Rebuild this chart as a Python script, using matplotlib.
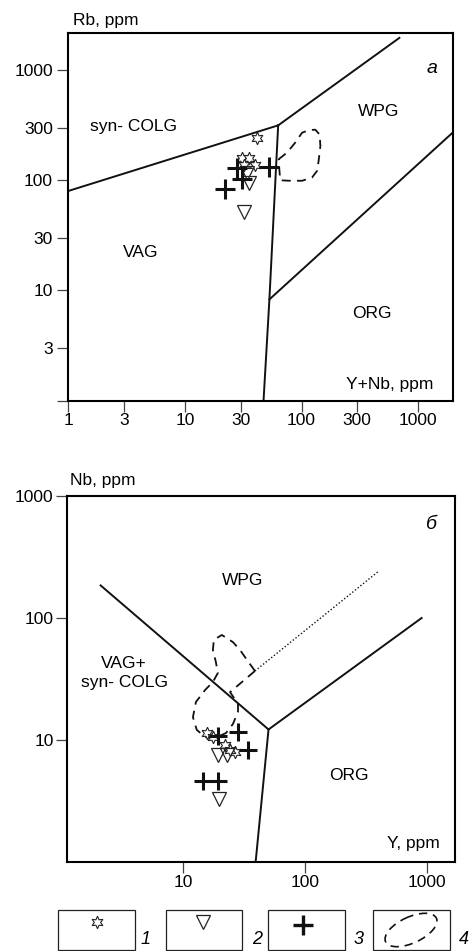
import matplotlib
matplotlib.use('Agg')
import matplotlib.pyplot as plt
from matplotlib.patches import Rectangle, Ellipse

plt.rcParams['font.family'] = ['Liberation Sans', 'DejaVu Sans']
FS = 12.5

# ── panel a: Rb vs Y+Nb ──────────────────────────────────────────
a_stars_x = [41.7, 30.8, 35.1, 31.8, 40.1]
a_stars_y = [240, 158, 158, 137, 137]
a_tri_x = [31.8, 35.1, 34.0]
a_tri_y = [51.8, 94.0, 116]
a_cross_x = [22.1, 27.9, 30.8, 52.8]
a_cross_y = [82.6, 128, 102, 132]

# field boundaries (Pearce et al., 1984)
a_colg_vag = ([1, 63], [80, 315])
a_colg_wpg = ([63, 690], [315, 1960])
a_vag_wpg = ([63, 53, 47.2], [315, 8.3, 1])
a_wpg_org = ([53, 2000], [8.3, 274])

a_field_x = [63.5, 75, 88, 101, 115, 131, 143, 145, 140, 136, 123, 101, 80, 65.6, 63.5]
a_field_y = [155, 178, 219, 270, 285, 288, 260, 204, 150, 122, 106, 99, 99, 100, 155]

# ── panel b: Nb vs Y ─────────────────────────────────────────────
b_stars_x = [15.6, 17.6, 22.0, 26.5, 24.2]
b_stars_y = [11.4, 10.6, 9.1, 8.0, 8.3]
b_tri_x = [19.4, 22.7, 19.6]
b_tri_y = [7.5, 7.5, 3.3]
b_cross_x = [28.2, 34.1, 19.4, 14.6, 19.4]
b_cross_y = [11.7, 8.3, 10.8, 4.6, 4.6]

b_left = ([2.1, 50], [185, 12.2])
b_right = ([50, 900], [12.2, 100])
b_down = ([50, 39.2], [12.2, 1])
b_dotted = ([38.7, 396], [36.8, 240])

b_field_x = [38.7, 33.3, 29.2, 25.5, 20.7, 17.8, 17.5, 18.5, 19.2, 17.5, 15.1,
             12.7, 12.0, 12.9, 15.1, 18.2, 22.4, 25.5, 28.1, 28.1, 24.2, 38.7]
b_field_y = [36.8, 45.3, 54.7, 63.5, 72.6, 66.1, 54.7, 43.6, 35.4, 29.9, 25.7,
             20.5, 15.4, 12.1, 10.6, 10.4, 11.4, 13.5, 17.0, 19.7, 24.7, 36.8]

W, H = 475, 951
fig = plt.figure(figsize=(W / 100, H / 100), dpi=100)


def style_axes(ax):
    ax.set_xscale('log')
    ax.set_yscale('log')
    for s in ax.spines.values():
        s.set_linewidth(1.5)
    ax.tick_params(which='major', direction='out', length=8, width=0.9,
                   color='#444444', labelsize=FS)
    ax.tick_params(which='minor', length=0)


def plot_points(ax, sx, sy, tx, ty, cx, cy, cross_ms):
    ax.plot(sx, sy, ls='none', marker=(6, 1, 0), ms=9, mfc='white',
            mec='#222222', mew=0.8, zorder=4)
    ax.plot(tx, ty, ls='none', marker='v', ms=10.5, mfc='none',
            mec='#222222', mew=0.9, zorder=4)
    ax.plot(cx, cy, ls='none', marker='+', ms=cross_ms, mec='#111111',
            mew=2.2, zorder=5)


line_kw = dict(color='#111111', lw=1.4, zorder=2)
dash_kw = dict(color='#111111', lw=1.3, ls=(0, (5, 3.5)), zorder=3)

# ── axes a ───────────────────────────────────────────────────────
ax = fig.add_axes([68.3 / W, 1 - 400.7 / H, 385 / W, 367.7 / H])
style_axes(ax)
ax.set_xlim(1, 2000)
ax.set_ylim(1, 2170)
ax.set_xticks([1, 3, 10, 30, 100, 300, 1000])
ax.set_xticklabels(['1', '3', '10', '30', '100', '300', '1000'])
ax.set_yticks([1, 3, 10, 30, 100, 300, 1000])
ax.set_yticklabels(['', '3', '10', '30', '100', '300', '1000'])
ax.tick_params(axis='x', pad=0.5)
ax.tick_params(axis='y', pad=3)

for xs, ys in (a_colg_vag, a_colg_wpg, a_vag_wpg, a_wpg_org):
    ax.plot(xs, ys, **line_kw)
ax.plot(a_field_x, a_field_y, **dash_kw)
plot_points(ax, a_stars_x, a_stars_y, a_tri_x, a_tri_y, a_cross_x, a_cross_y, 14)

ax.text(1.54, 306, 'syn- COLG', fontsize=FS, va='center', ha='left')
ax.text(307, 419, 'WPG', fontsize=FS, va='center', ha='left')
ax.text(2.95, 22.2, 'VAG', fontsize=FS, va='center', ha='left')
ax.text(272, 6.2, 'ORG', fontsize=FS, va='center', ha='left')
ax.text(0.947, 0.043, 'Y+Nb, ppm', fontsize=FS, transform=ax.transAxes,
        ha='right', va='center')
ax.text(0.945, 0.904, 'a', fontsize=14, style='italic', transform=ax.transAxes,
        ha='center', va='center')
fig.text(73 / W, 1 - 20.7 / H, 'Rb, ppm', fontsize=FS, ha='left', va='center')

# ── axes b ───────────────────────────────────────────────────────
bx = fig.add_axes([66.7 / W, 1 - 862 / H, 388.3 / W, 366 / H])
style_axes(bx)
bx.set_xlim(1.107, 1690)
bx.set_ylim(1, 1000)
bx.set_xticks([10, 100, 1000])
bx.set_xticklabels(['10', '100', '1000'])
bx.set_yticks([10, 100, 1000])
bx.set_yticklabels(['10', '100', '1000'])
bx.tick_params(axis='x', pad=1.5)
bx.tick_params(axis='y', pad=1.5)

for xs, ys in (b_left, b_right, b_down):
    bx.plot(xs, ys, **line_kw)
bx.plot(*b_dotted, color='#111111', lw=1.0, ls=(0, (1, 1.5)), zorder=2)
bx.plot(b_field_x, b_field_y, **dash_kw)
plot_points(bx, b_stars_x, b_stars_y, b_tri_x, b_tri_y, b_cross_x, b_cross_y, 13)

bx.text(20.7, 202, 'WPG', fontsize=FS, va='center', ha='left')
bx.text(3.27, 35.5, 'VAG+\nsyn- COLG', fontsize=FS, va='center', ha='center',
        linespacing=1.3)
bx.text(156, 5.07, 'ORG', fontsize=FS, va='center', ha='left')
bx.text(0.961, 0.051, 'Y, ppm', fontsize=FS, transform=bx.transAxes,
        ha='right', va='center')
bx.text(0.94, 0.921, 'б', fontsize=14, style='italic', transform=bx.transAxes,
        ha='center', va='center')
fig.text(70 / W, 1 - 480.7 / H, 'Nb, ppm', fontsize=FS, ha='left', va='center')

# ── legend boxes (pixel overlay) ─────────────────────────────────
lg = fig.add_axes([0, 0, 1, 1])
lg.set_xlim(0, W)
lg.set_ylim(H, 0)
lg.axis('off')

box_left = [58.3, 165.7, 268.3, 373.3]
num_x = [146, 257, 358.5, 463.5]
for i, x0 in enumerate(box_left):
    lg.add_patch(Rectangle((x0, 910), 76.5, 39.5, fill=False, lw=0.9,
                           ec='#222222'))
    lg.text(num_x[i], 940, str(i + 1), fontsize=13, style='italic',
            ha='center', va='center')
lg.plot([96.7], [922], marker=(6, 1, 0), ms=9, mfc='white', mec='#222222', mew=0.8)
lg.plot([203.3], [922], marker='v', ms=10.5, mfc='none', mec='#222222', mew=0.9)
lg.plot([303.3], [925], marker='+', ms=14, mec='#111111', mew=2.4)
lg.add_patch(Ellipse((411, 930), 56, 26, angle=-25, fill=False, lw=1.2,
                     ls=(0, (5, 3.5)), ec='#111111'))

fig.savefig('out.png', dpi=100)
